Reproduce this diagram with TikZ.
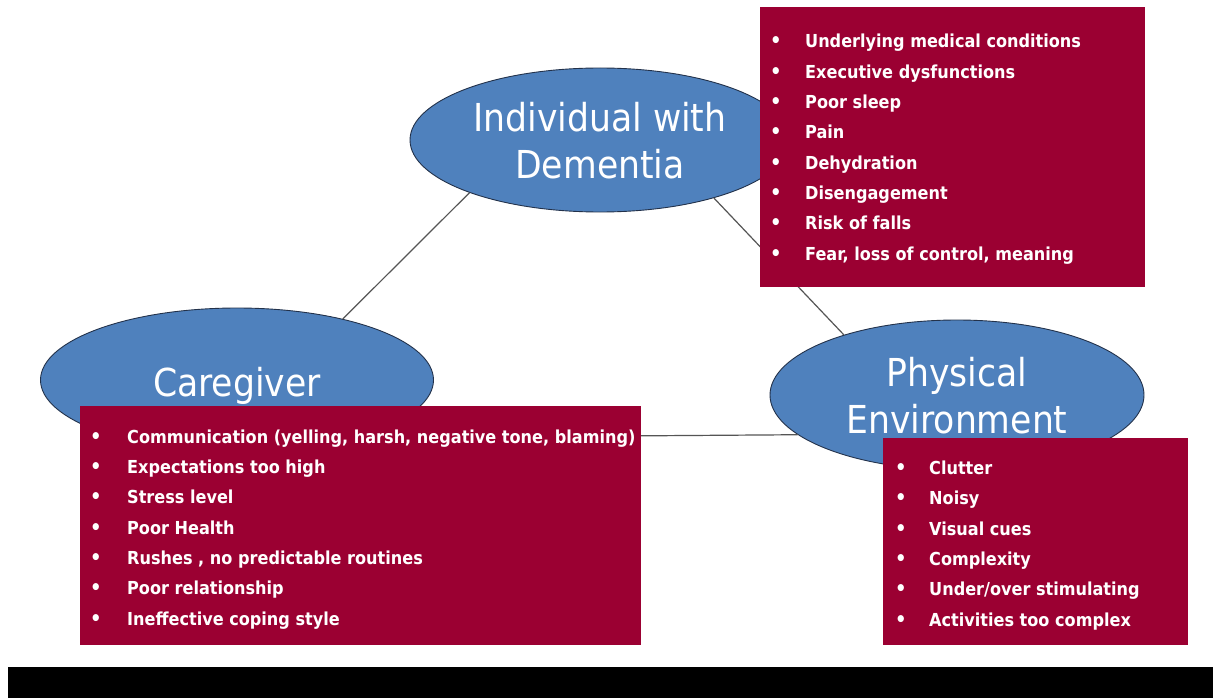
\documentclass[tikz,border=0pt]{standalone}
\usepackage{fontspec}
\setmainfont{DejaVu Sans Condensed}
\usetikzlibrary{shapes.geometric}
\definecolor{boxred}{RGB}{155,0,50}
\definecolor{ovalblue}{RGB}{79,129,189}
\definecolor{ovalrim}{RGB}{35,50,75}
\definecolor{linkgray}{RGB}{85,85,85}
\tikzset{
  oval/.style={ellipse, fill=ovalblue, draw=ovalrim, line width=0.9pt, inner sep=0pt},
  ovaltext/.style={text=white, align=center, font={\fontsize{38.5}{47}\selectfont}, inner sep=0pt},
  panel/.style={fill=boxred, draw=none, inner sep=0pt, anchor=north west},
  listtext/.style={text=white, align=left, anchor=base west, inner sep=0pt, font={\fontsize{17.9}{30.3}\selectfont\bfseries}},
  link/.style={draw=linkgray, line width=1.2pt},
}
\newcommand{\itm}[2]{\makebox[#1][l]{\fontsize{20}{20}\selectfont•}#2}
\begin{document}
\begin{tikzpicture}[x=1pt,y=-1pt]
  % canvas and footer bar
  \fill[white] (0,0) rectangle (1213,698);
  \useasboundingbox (0,0) rectangle (1213,698);
  \fill[black] (8,667) rectangle (1213,698);

  % the three ovals
  \node[oval, minimum width=380pt, minimum height=144pt] (ind) at (600,140) {};
  \node[oval, minimum width=393pt, minimum height=144pt] (cg) at (237,380) {};
  \node[oval, minimum width=374pt, minimum height=150pt] (env) at (957,395) {};

  \node[ovaltext] (indt) at (600,141) {Individual with\\Dementia};
  \node[ovaltext] (cgt) at (237,386) {Caregiver};
  \node[ovaltext] (envt) at (957,396) {Physical\\Environment};

  % connectors between the ovals
  \draw[link] (ind.202) -- (cg.30);
  \draw[link] (ind.333) -- (env.152);
  \draw[link] (cg.-26) -- (env.194);

  % factor panels
  \node[panel, minimum width=385pt, minimum height=280pt] (indbox) at (760,7) {};
  \node[panel, minimum width=561pt, minimum height=239pt] (cgbox) at (80,406) {};
  \node[panel, minimum width=305pt, minimum height=207pt] (envbox) at (883,438) {};

  % lists, anchored at the baseline of their last line
  \node[listtext] (indlist) at (770,260) {%
    \itm{35pt}{Underlying medical conditions}\\
    \itm{35pt}{Executive dysfunctions}\\
    \itm{35pt}{Poor sleep}\\
    \itm{35pt}{Pain}\\
    \itm{35pt}{Dehydration}\\
    \itm{35pt}{Disengagement}\\
    \itm{35pt}{Risk of falls}\\
    \itm{35pt}{Fear, loss of control, meaning}};

  \node[listtext] (cglist) at (90,625) {%
    \itm{37pt}{Communication (yelling, harsh, negative tone, blaming)}\\
    \itm{37pt}{Expectations too high}\\
    \itm{37pt}{Stress level}\\
    \itm{37pt}{Poor Health}\\
    \itm{37pt}{Rushes , no predictable routines}\\
    \itm{37pt}{Poor relationship}\\
    \itm{37pt}{Ineffective coping style}};

  \node[listtext] (envlist) at (895,626) {%
    \itm{34pt}{Clutter}\\
    \itm{34pt}{Noisy}\\
    \itm{34pt}{Visual cues}\\
    \itm{34pt}{Complexity}\\
    \itm{34pt}{Under/over stimulating}\\
    \itm{34pt}{Activities too complex}};
\end{tikzpicture}
\end{document}
